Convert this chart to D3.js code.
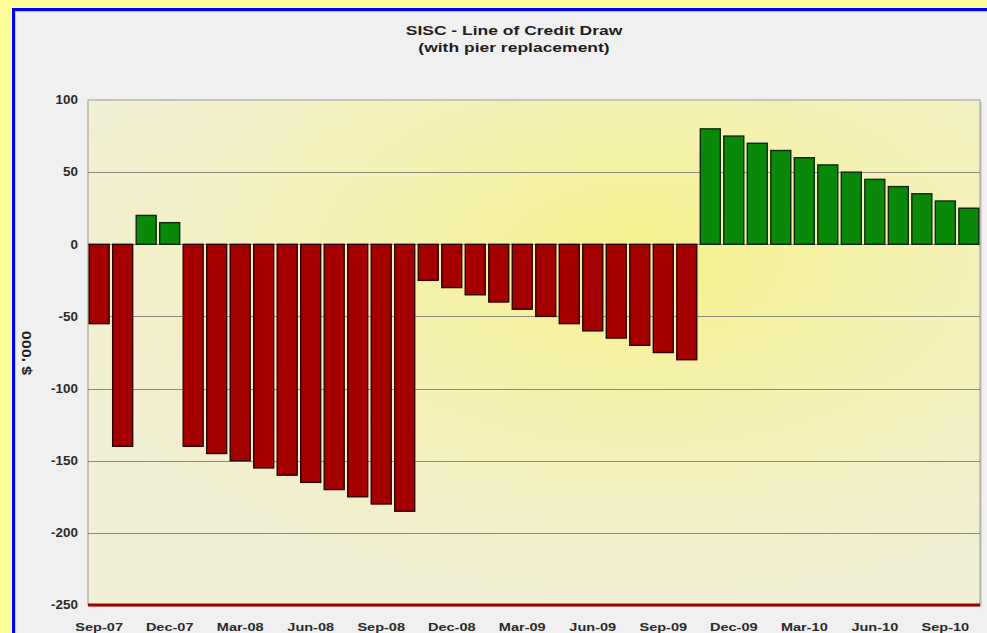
<!DOCTYPE html>
<html>
<head>
<meta charset="utf-8">
<script src="https://cdn.jsdelivr.net/npm/d3@7"></script>
<style>
  html, body { margin: 0; padding: 0; background: #ffff99; }
  svg { display: block; }
  text { font-family: "Liberation Sans", Arial, sans-serif; }
</style>
</head>
<body>
<svg id="chart" width="987" height="633"></svg>
<script>
// ---- Data ----
const months = [
  "Sep-07","Oct-07","Nov-07","Dec-07","Jan-08","Feb-08","Mar-08","Apr-08","May-08","Jun-08",
  "Jul-08","Aug-08","Sep-08","Oct-08","Nov-08","Dec-08","Jan-09","Feb-09","Mar-09","Apr-09",
  "May-09","Jun-09","Jul-09","Aug-09","Sep-09","Oct-09","Nov-09","Dec-09","Jan-10","Feb-10",
  "Mar-10","Apr-10","May-10","Jun-10","Jul-10","Aug-10","Sep-10","Oct-10"
];
const draw = [
  -55, -140, 20, 15, -140, -145, -150, -155, -160, -165,
  -170, -175, -180, -185, -25, -30, -35, -40, -45, -50,
  -55, -60, -65, -70, -75, -80, 80, 75, 70, 65,
  60, 55, 50, 45, 40, 35, 30, 25
];
const xTickLabels = ["Sep-07","Dec-07","Mar-08","Jun-08","Sep-08","Dec-08","Mar-09","Jun-09","Sep-09","Dec-09","Mar-10","Jun-10","Sep-10"];
const yTicks = [100, 50, 0, -50, -100, -150, -200, -250];
const titleLines = ["SISC - Line of Credit Draw", "(with pier replacement)"];
const yAxisTitle = "$ '000";

// ---- Layout ----
const svg = d3.select("#chart");
const W = 987, H = 633;
const plot = { left: 88, right: 980, top: 100, bottom: 605 };

// outer frame
svg.append("rect").attr("x", 0).attr("y", 0).attr("width", W).attr("height", H).attr("fill", "#ffff99");
svg.append("rect").attr("x", 12).attr("y", 8).attr("width", W - 12).attr("height", H - 8).attr("fill", "#0000ff");
svg.append("rect").attr("x", 15).attr("y", 11).attr("width", W - 15).attr("height", H - 11).attr("fill", "#c8c8f0");
svg.append("rect").attr("x", 16).attr("y", 12).attr("width", W - 16).attr("height", H - 12).attr("fill", "#f0f0f0");

// gradient for plot background
const defs = svg.append("defs");
const grad = defs.append("radialGradient").attr("id", "bg")
  .attr("cx", "62%").attr("cy", "32%").attr("r", "70%");
grad.append("stop").attr("offset", "0%").attr("stop-color", "#f6f28a");
grad.append("stop").attr("offset", "45%").attr("stop-color", "#f4f1b4");
grad.append("stop").attr("offset", "100%").attr("stop-color", "#f1efd6");

// scales
const x = d3.scaleBand().domain(months).range([plot.left, plot.right]).paddingInner(0.15).paddingOuter(0.05);
const y = d3.scaleLinear().domain([-250, 100]).range([plot.bottom, plot.top]);

// plot background with shadow
svg.append("rect").attr("x", plot.left + 2).attr("y", plot.top + 2)
  .attr("width", plot.right - plot.left).attr("height", plot.bottom - plot.top)
  .attr("fill", "#d6d6d0");
svg.append("rect").attr("x", plot.left).attr("y", plot.top)
  .attr("width", plot.right - plot.left).attr("height", plot.bottom - plot.top)
  .attr("fill", "url(#bg)").attr("stroke", "#9a9a90").attr("stroke-width", 1);

// gridlines
svg.append("g").selectAll("line").data(yTicks.filter(d => d > -250 && d < 100)).join("line")
  .attr("x1", plot.left).attr("x2", plot.right)
  .attr("y1", d => Math.round(y(d)) + 0.5).attr("y2", d => Math.round(y(d)) + 0.5)
  .attr("stroke", "#8a8a80").attr("stroke-width", 1);

// bars
svg.append("g").selectAll("rect").data(draw).join("rect")
  .attr("x", (d, i) => x(months[i]))
  .attr("width", x.bandwidth())
  .attr("y", d => y(Math.max(0, d)))
  .attr("height", d => Math.abs(y(d) - y(0)))
  .attr("fill", d => d >= 0 ? "#0a880a" : "#a40000")
  .attr("stroke", d => d >= 0 ? "#102810" : "#2e0000")
  .attr("stroke-width", 1.4);

// bottom red axis line
svg.append("line").attr("x1", plot.left).attr("x2", plot.right)
  .attr("y1", plot.bottom).attr("y2", plot.bottom)
  .attr("stroke", "#a00000").attr("stroke-width", 3);

// y axis
const yAxis = d3.axisLeft(y).tickValues(yTicks).tickFormat(d => String(d)).tickSize(0).tickPadding(0);
const gy = svg.append("g").attr("transform", `translate(${plot.left - 10},0)`).call(yAxis);
gy.select(".domain").remove();
gy.selectAll("text")
  .attr("x", 0)
  .attr("font-family", "Liberation Sans, Arial, sans-serif")
  .attr("font-size", 12).attr("font-weight", "bold").attr("fill", "#2a2a2a")
  .attr("transform", "scale(1.12,1)");

// x axis
const xAxis = d3.axisBottom(x).tickValues(xTickLabels).tickSize(0).tickPadding(0);
const gx = svg.append("g").attr("transform", `translate(0,${plot.bottom + 22})`).call(xAxis);
gx.select(".domain").remove();
gx.selectAll("text")
  .attr("y", 0).attr("dy", "0.35em")
  .attr("font-family", "Liberation Sans, Arial, sans-serif")
  .attr("font-size", 11).attr("font-weight", "bold").attr("fill", "#2a2a2a")
  .attr("transform", "scale(1.32,1)");

// title
svg.append("g").attr("transform", "translate(514,0)").selectAll("text").data(titleLines).join("text")
  .attr("x", 0).attr("y", (d, i) => 35 + i * 17)
  .attr("text-anchor", "middle")
  .attr("font-size", 12.5).attr("font-weight", "bold").attr("fill", "#1e1e1e")
  .attr("transform", "scale(1.4,1)")
  .attr("transform-origin", "0 0")
  .text(d => d);

// y axis title
svg.append("text")
  .attr("transform", "translate(31,353) rotate(-90) scale(1.35,1)")
  .attr("text-anchor", "middle")
  .attr("font-size", 12).attr("font-weight", "bold").attr("fill", "#1e1e1e")
  .text(yAxisTitle);
</script>
</body>
</html>
